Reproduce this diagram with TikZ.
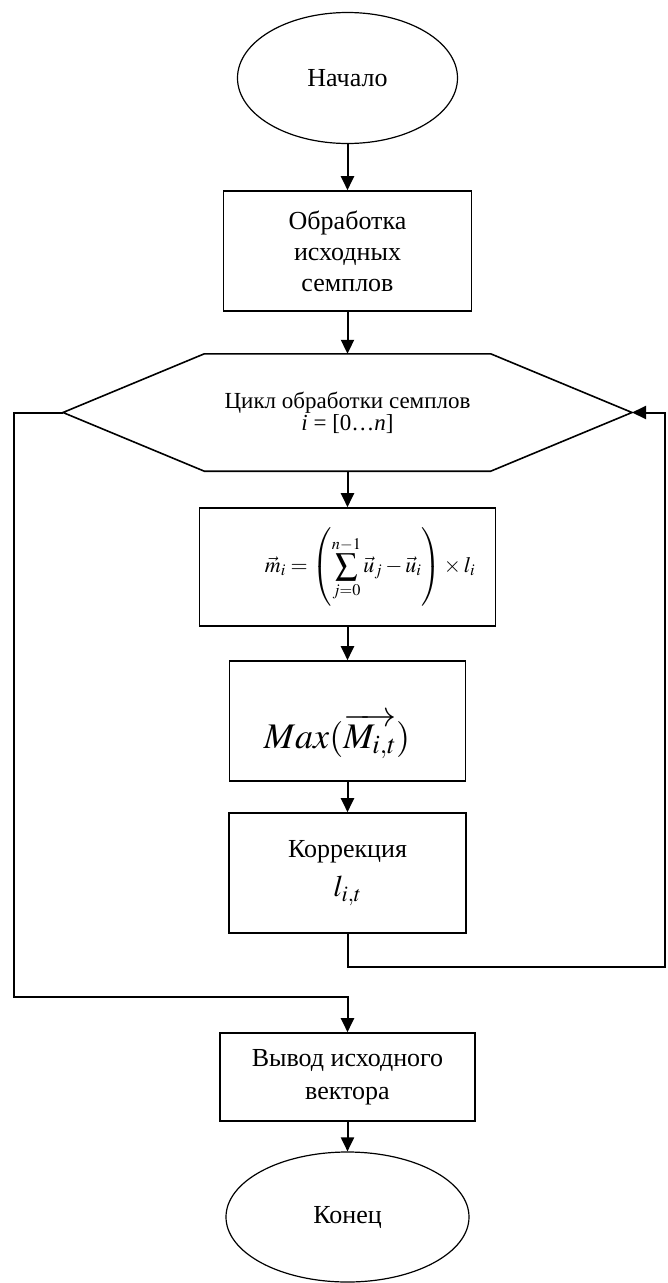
\documentclass[tikz,border=0pt]{standalone}
\usepackage{mathptmx}
\usepackage{fontspec}
\setmainfont{Liberation Serif}
\usepackage{tikz}
\usetikzlibrary{shapes.geometric,arrows.meta}
\tikzstyle{ovalnode}=[ellipse,draw=black,line width=1.2pt,inner sep=0pt,
                      font=\fontsize{26pt}{31pt}\selectfont]
\tikzstyle{procbox}=[rectangle,draw=black,line width=1.6pt,inner sep=0pt,
                     align=center,font=\fontsize{26pt}{31pt}\selectfont]
\tikzstyle{flowline}=[line width=2pt,-{Triangle[length=14pt,width=13pt]}]

\begin{document}
\begin{tikzpicture}[x=1pt,y=-1pt]
    \newcommand{\xc}{347.5}
    \useasboundingbox (0,0) rectangle (667,1283);
    \node (start) at (\xc,78) [ovalnode,minimum width=220pt,minimum height=131pt]
        {\raisebox{-4pt}{Начало}};
    \node (prep) at (\xc,251) [procbox,minimum width=248pt,minimum height=120pt]
        {Обработка\\исходных\\семплов};
    \node (loop) at (\xc,412.5) [minimum width=286pt,minimum height=117pt,inner sep=0pt,
        align=center,font=\fontsize{23pt}{22pt}\selectfont]
        {Цикл обработки семплов\\\textit{i} = [0…\textit{n}]};
    \coordinate (hl) at (63,412.5);
    \coordinate (hr) at (632,412.5);
    \draw[line width=1.6pt] (loop.north west) -- (loop.north east) -- (hr)
        -- (loop.south east) -- (loop.south west) -- (hl) -- cycle;
    \node (summ) at (\xc,567) [procbox,minimum width=296pt,minimum height=118pt]{};
    \node (summt) at (370,568) [inner sep=0pt,font=\fontsize{22pt}{26pt}\selectfont]
        {$\displaystyle \vec{m}_i=\left(\vrule height 42pt depth 36pt width 0pt
        \sum_{j=0}^{n-1}\vec{u}_j-\vec{u}_i\right)\times l_i$};
    \node (maxb) at (\xc,721) [procbox,minimum width=236pt,minimum height=120pt]{};
    \node (maxt) at (337,736) [font=\fontsize{36pt}{40pt}\selectfont]
        {$Max(\overrightarrow{M_{i,t}})$};
    \node (corr) at (\xc,873) [procbox,minimum width=237pt,minimum height=120pt]
        {Коррекция\\[8pt]{\fontsize{30pt}{30pt}\selectfont$l_{i,t}$}};
    \node (outv) at (\xc,1077) [procbox,minimum width=255pt,minimum height=88pt]
        {Вывод исходного\\[2pt]вектора};
    \node (stop) at (\xc,1217) [ovalnode,minimum width=243pt,minimum height=130pt]
        {\raisebox{-5pt}{Конец}};
    % main flow
    \draw[flowline] (start.south) -- (prep.north);
    \draw[flowline] (prep.south) -- (loop.north);
    \draw[flowline] (loop.south) -- (summ.north);
    \draw[flowline] (summ.south) -- (maxb.north);
    \draw[flowline] (maxb.south) -- (corr.north);
    % loop back and exit
    \coordinate (rbend) at (665,967);
    \draw[flowline] (corr.south) |- (rbend) |- (hr);
    \coordinate (lbend) at (14,997);
    \draw[flowline] (hl) -| (lbend) -| (outv.north);
    \draw[flowline] (outv.south) -- (stop.north);
\end{tikzpicture}
\end{document}
